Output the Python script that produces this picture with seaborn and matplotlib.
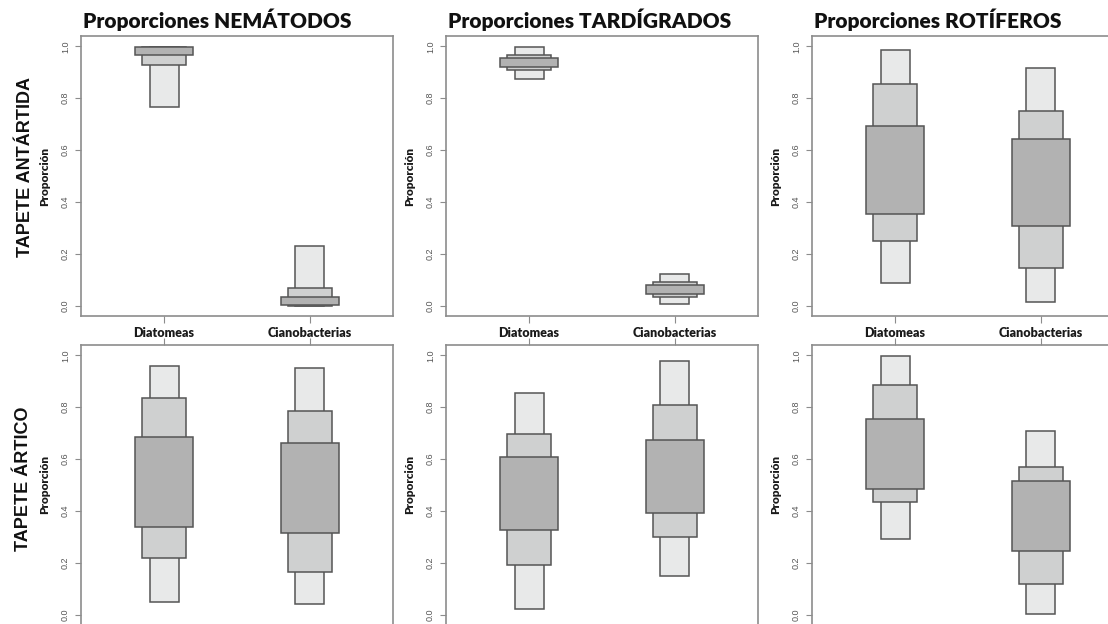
import numpy as np
import matplotlib
matplotlib.use("Agg")
import matplotlib.pyplot as plt
import seaborn as sns

sns.set_theme(style="white")
plt.rcParams["font.family"] = ["Liberation Sans", "DejaVu Sans"]

categories = ["Diatomeas", "Cianobacterias"]
groups = ["NEMÁTODOS", "TARDÍGRADOS", "ROTÍFEROS"]
mats = ["TAPETE ANTÁRTIDA", "TAPETE ÁRTICO"]

# Interval bounds, one row per band (outer, middle, inner),
# one column per category (Diatomeas, Cianobacterias)
nem_ant_lower = [[0.768, 0.000], [0.928, 0.000], [0.965, 0.001]]
nem_ant_upper = [[0.999, 0.230], [0.997, 0.069], [0.999, 0.035]]
tar_ant_lower = [[0.876, 0.005], [0.907, 0.032], [0.920, 0.045]]
tar_ant_upper = [[0.996, 0.122], [0.968, 0.093], [0.956, 0.080]]
rot_ant_lower = [[0.086, 0.015], [0.250, 0.147], [0.354, 0.309]]
rot_ant_upper = [[0.985, 0.916], [0.853, 0.750], [0.692, 0.644]]

nem_art_lower = [[0.049, 0.042], [0.217, 0.166], [0.337, 0.315]]
nem_art_upper = [[0.960, 0.950], [0.837, 0.784], [0.685, 0.662]]
tar_art_lower = [[0.021, 0.148], [0.193, 0.299], [0.326, 0.392]]
tar_art_upper = [[0.856, 0.978], [0.698, 0.807], [0.608, 0.673]]
rot_art_lower = [[0.292, 0.004], [0.434, 0.118], [0.483, 0.246]]
rot_art_upper = [[0.997, 0.708], [0.885, 0.569], [0.755, 0.517]]

panels = [
    [(nem_ant_lower, nem_ant_upper), (tar_ant_lower, tar_ant_upper), (rot_ant_lower, rot_ant_upper)],
    [(nem_art_lower, nem_art_upper), (tar_art_lower, tar_art_upper), (rot_art_lower, rot_art_upper)],
]

y_ticks = [0.0, 0.2, 0.4, 0.6, 0.8, 1.0]

band_widths = [0.2, 0.3, 0.4]
band_colors = ["#e8e9e9", "#cfd0d0", "#b2b2b2"]
edge_color = "#555555"
frame_color = "#8c8c8c"

W, H = 1108, 624
fig = plt.figure(figsize=(W / 100, H / 100), dpi=100)

col_left = [81, 446, 812]
row_top = [36, 345]
ax_w, ax_h = 312, 280

for r in range(2):
    for c in range(3):
        left = col_left[c] / W
        bottom = 1 - (row_top[r] + ax_h) / H
        ax = fig.add_axes([left, bottom, ax_w / W, ax_h / H])
        lower, upper = panels[r][c]
        for band in range(3):
            lo = np.array(lower[band])
            hi = np.array(upper[band])
            sns.barplot(x=categories, y=hi - lo, bottom=lo, width=band_widths[band],
                        color=band_colors[band], saturation=1, edgecolor=edge_color,
                        linewidth=1.1, errorbar=None, ax=ax)
        ax.set_xlim(-0.57, 1.57)
        ax.set_ylim(-0.04, 1.04)
        ax.set_yticks(y_ticks)
        ax.set_yticklabels([f"{v:.1f}" for v in y_ticks], rotation=90, va="center",
                           fontsize=6.5, color="#555555")
        for s in ax.spines.values():
            s.set_color(frame_color)
            s.set_linewidth(1.2)
        ax.tick_params(axis="y", left=True, length=4, width=0.8, color=frame_color, pad=4)
        if r == 0:
            ax.tick_params(axis="x", bottom=True, length=5, width=0.8, color=frame_color, pad=3)
            ax.set_xticks([0, 1])
            ax.set_xticklabels(categories, fontsize=9, fontweight="heavy",
                               family=["Lato", "DejaVu Sans"], color="#1a1a1a")
        else:
            ax.tick_params(axis="x", bottom=False, top=True, labelbottom=False,
                           labeltop=False, length=5, width=0.8, color=frame_color)
        ax.set_xlabel("")
        ax.set_ylabel("Proporción", fontsize=8.5, fontweight="heavy",
                      family=["Lato", "DejaVu Sans"], color="#1a1a1a")
        ax.yaxis.set_label_coords(-0.10, 0.5)
        if r == 0:
            fig.text((col_left[c] + 2) / W, 1 - 28 / H, f"Proporciones {groups[c]}",
                     ha="left", va="baseline", fontsize=15, fontweight="heavy",
                     family=["Lato", "DejaVu Sans"], color="#111111")

fig.text(26 / W, 1 - 167 / H, mats[0], rotation=90, ha="center", va="center",
         fontsize=13, fontweight="bold", family=["Liberation Sans", "DejaVu Sans"],
         color="#111111")
fig.text(24 / W, 1 - 479 / H, mats[1], rotation=90, ha="center", va="center",
         fontsize=13, fontweight="bold", family=["Liberation Sans", "DejaVu Sans"],
         color="#111111")

fig.savefig("out.png", dpi=100)
